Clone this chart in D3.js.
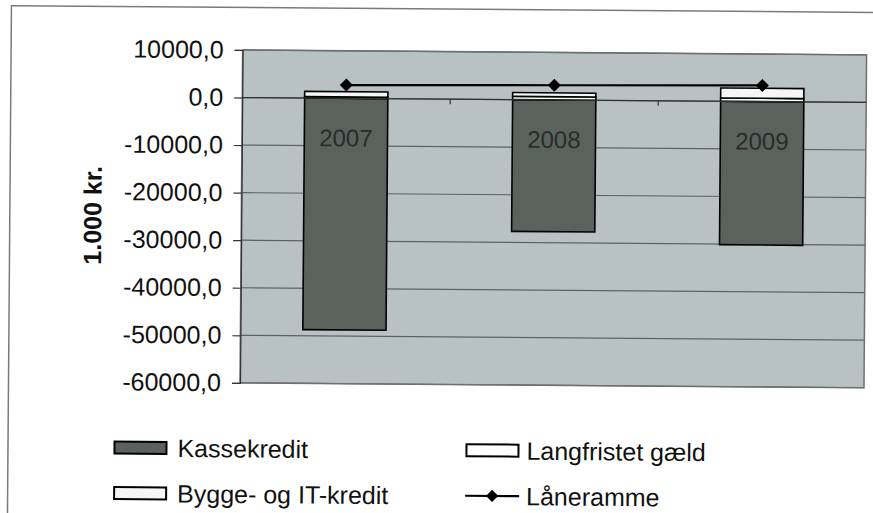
<!DOCTYPE html>
<html>
<head>
<meta charset="utf-8">
<script src="https://cdn.jsdelivr.net/npm/d3@7/dist/d3.min.js"></script>
<style>
  html, body { margin: 0; padding: 0; background: #ffffff; }
  svg { display: block; }
  text { font-family: Arial, "Liberation Sans", sans-serif; }
</style>
</head>
<body>
<svg id="chart" width="873" height="513"></svg>
<script>
// ---- data ----
const categories   = ["2007", "2008", "2009"];
const kassekredit  = [-48700, -27700, -30150];
const langfristet  = [300, 700, 700];
const byggeIT      = [1100, 800, 2100];
const laaneramme   = [2800, 3100, 3400];
const yTicks       = [10000, 0, -10000, -20000, -30000, -40000, -50000, -60000];
const yTitle       = "1.000 kr.";
const legendLabels = ["Kassekredit", "Langfristet gæld", "Bygge- og IT-kredit", "Låneramme"];

// ---- layout ----
const svg = d3.select("#chart");
const root = svg.append("g").attr("transform", "rotate(0.45, 436, 256)");

const plot = { left: 241, right: 865, top: 51.5, bottom: 384.4 };

// outer chart border
root.append("rect")
  .attr("x", 9.5).attr("y", 9).attr("width", 920).attr("height", 600)
  .attr("fill", "#ffffff").attr("stroke", "#7a7a7a").attr("stroke-width", 1.5);

const x = d3.scaleBand().domain(categories)
  .range([plot.left, plot.right]).paddingInner(0.6).paddingOuter(0.3);
const y = d3.scaleLinear().domain([-60000, 10000]).range([plot.bottom, plot.top]);

// plot background
root.append("rect")
  .attr("x", plot.left).attr("y", plot.top)
  .attr("width", plot.right - plot.left).attr("height", plot.bottom - plot.top)
  .attr("fill", "#b8c2c4");

// gridlines
root.append("g").selectAll("line").data(yTicks).join("line")
  .attr("x1", plot.left).attr("x2", plot.right)
  .attr("y1", d => y(d)).attr("y2", d => y(d))
  .attr("stroke", "#5a6366").attr("stroke-width", 1.2);

// plot border
root.append("rect")
  .attr("x", plot.left).attr("y", plot.top)
  .attr("width", plot.right - plot.left).attr("height", plot.bottom - plot.top)
  .attr("fill", "none").attr("stroke", "#707070").attr("stroke-width", 1.5);

// y axis
const fmt = d => (d < 0 ? "-" : "") + Math.abs(d).toFixed(1).replace(".", ",");
const yAxis = root.append("g")
  .attr("transform", `translate(${plot.left},0)`)
  .call(d3.axisLeft(y).tickValues(yTicks).tickSize(8).tickPadding(11).tickFormat(fmt));
yAxis.select(".domain").attr("stroke", "#333").attr("stroke-width", 1.2);
yAxis.selectAll(".tick line").attr("stroke", "#333").attr("stroke-width", 1.2);
yAxis.selectAll(".tick text")
  .attr("font-size", 25).attr("fill", "#111")
  .style("font-family", 'Arial, "Liberation Sans", sans-serif');

// y title
root.append("text")
  .attr("transform", `translate(101, ${(plot.top + plot.bottom) / 2}) rotate(-90)`)
  .attr("text-anchor", "middle")
  .attr("font-size", 25).attr("font-weight", "bold").attr("fill", "#111")
  .text(yTitle);

// bars
const bw = x.bandwidth();
const barsG = root.append("g");
categories.forEach((c, i) => {
  barsG.append("rect")
    .attr("x", x(c)).attr("width", bw)
    .attr("y", y(0)).attr("height", y(kassekredit[i]) - y(0))
    .attr("fill", "#5a625e").attr("stroke", "#000").attr("stroke-width", 1.6);
  barsG.append("rect")
    .attr("x", x(c)).attr("width", bw)
    .attr("y", y(langfristet[i])).attr("height", y(0) - y(langfristet[i]))
    .attr("fill", "#ffffff").attr("stroke", "#000").attr("stroke-width", 1.6);
  const top = langfristet[i] + byggeIT[i];
  barsG.append("rect")
    .attr("x", x(c)).attr("width", bw)
    .attr("y", y(top)).attr("height", y(langfristet[i]) - y(top))
    .attr("fill", "#f6f6f6").attr("stroke", "#000").attr("stroke-width", 1.6);
});

// x axis at zero
const xAxis = root.append("g").attr("transform", `translate(0,${y(0)})`);
xAxis.append("line")
  .attr("x1", plot.left).attr("x2", plot.right)
  .attr("stroke", "#333").attr("stroke-width", 1.2);
const step = x.step();
const boundaries = categories.slice(1).map(c => x(c) - (step - bw) / 2);
xAxis.selectAll("line.tk").data(boundaries).join("line").attr("class", "tk")
  .attr("x1", d => d).attr("x2", d => d).attr("y1", 0).attr("y2", 5)
  .attr("stroke", "#333").attr("stroke-width", 1.2);
xAxis.selectAll("text").data(categories).join("text")
  .attr("x", d => x(d) + bw / 2).attr("y", 48)
  .attr("text-anchor", "middle").attr("font-size", 24).attr("fill", "#2b2b2b")
  .text(d => d);

// Låneramme line
const cx = c => x(c) + bw / 2;
root.append("path")
  .datum(categories.map((c, i) => [cx(c), y(laaneramme[i])]))
  .attr("d", d3.line())
  .attr("fill", "none").attr("stroke", "#000").attr("stroke-width", 2.2);
root.append("g").selectAll("path").data(categories).join("path")
  .attr("d", d3.symbol().type(d3.symbolSquare).size(85))
  .attr("transform", (c, i) => `translate(${cx(c)},${y(laaneramme[i])}) rotate(45)`)
  .attr("fill", "#000");

// legend
const leg = root.append("g");
const legItems = [
  { label: legendLabels[0], kind: "rect", fill: "#5a625e", sx: 116, ty: 450, tx: 179 },
  { label: legendLabels[1], kind: "rect", fill: "#ffffff", sx: 468, ty: 450, tx: 528 },
  { label: legendLabels[2], kind: "rect", fill: "#f6f6f6", sx: 116, ty: 495.5, tx: 179 },
  { label: legendLabels[3], kind: "line", fill: "#000",    sx: 467, ty: 495.5, tx: 528 }
];
legItems.forEach(it => {
  if (it.kind === "rect") {
    leg.append("rect")
      .attr("x", it.sx).attr("y", it.ty - 6).attr("width", 52).attr("height", 12)
      .attr("fill", it.fill).attr("stroke", "#000").attr("stroke-width", 2);
  } else {
    leg.append("line")
      .attr("x1", it.sx).attr("x2", it.sx + 54).attr("y1", it.ty).attr("y2", it.ty)
      .attr("stroke", "#000").attr("stroke-width", 2.2);
    leg.append("path")
      .attr("transform", `translate(${it.sx + 27},${it.ty}) rotate(45)`)
      .attr("d", d3.symbol().type(d3.symbolSquare).size(75))
      .attr("fill", "#000");
  }
  leg.append("text")
    .attr("x", it.tx).attr("y", it.ty).attr("dy", "0.36em")
    .attr("font-size", 25).attr("fill", "#111")
    .text(it.label);
});
</script>
</body>
</html>
